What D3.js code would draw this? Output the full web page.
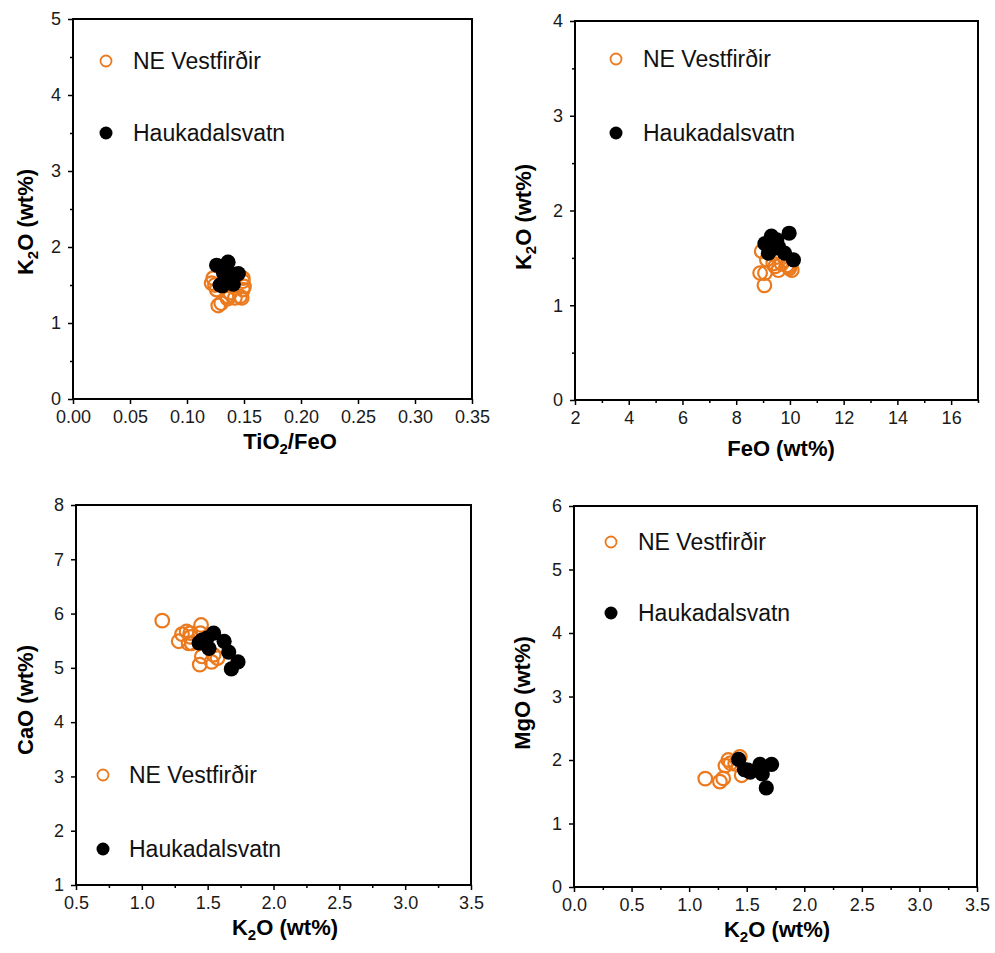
<!DOCTYPE html>
<html><head><meta charset="utf-8">
<script src="https://cdn.jsdelivr.net/npm/d3@7"></script>
<style>
body{margin:0;background:#fff;}
svg{display:block;font-family:"Liberation Sans",Arial,Helvetica,sans-serif;}
</style></head>
<body>
<svg id="chart" width="995" height="953"></svg>
<script>
const seriesNames = ["NE Vestfirðir", "Haukadalsvatn"];
const orange = "#EB7A1E";

// Panel 1: TiO2/FeO vs K2O
const p1_ne = [[0.1274,1.23],[0.130,1.26],[0.1357,1.32],[0.135,1.35],[0.142,1.33],[0.1465,1.35],[0.148,1.33],
  [0.138,1.40],[0.150,1.48],[0.149,1.44],[0.149,1.55],[0.149,1.59],[0.1245,1.50],[0.1216,1.525],[0.123,1.59],[0.126,1.44]];
const p1_ha = [[0.126,1.76],[0.136,1.80],[0.132,1.66],[0.1377,1.66],[0.145,1.65],[0.129,1.50],[0.131,1.49],
  [0.1406,1.51],[0.1348,1.57]];

// Panel 2: FeO vs K2O
const p2_ne = [[9.05,1.21],[8.89,1.34],[9.07,1.34],[9.98,1.39],[9.45,1.41],[8.95,1.57],[9.14,1.48],[9.69,1.44],
  [9.88,1.42],[9.38,1.44],[9.94,1.41],[10.07,1.37],[9.57,1.37]];
const p2_ha = [[9.31,1.73],[9.97,1.76],[9.07,1.65],[9.57,1.62],[10.13,1.48],[9.80,1.55],[9.20,1.55],[9.51,1.69],[9.40,1.60]];

// Panel 3: K2O vs CaO
const p3_ne = [[1.155,5.87],[1.28,5.49],[1.305,5.62],[1.368,5.64],[1.37,5.57],[1.45,5.79],[1.444,5.64],[1.355,5.45],
  [1.38,5.45],[1.34,5.67],[1.44,5.06],[1.456,5.21],[1.545,5.24],[1.575,5.18],[1.53,5.11]];
const p3_ha = [[1.435,5.46],[1.545,5.64],[1.495,5.55],[1.51,5.36],[1.625,5.49],[1.66,5.29],[1.73,5.11],[1.68,4.98],[1.457,5.51]];

// Panel 4: K2O vs MgO
const p4_ne = [[1.14,1.707],[1.267,1.66],[1.296,1.71],[1.34,2.0],[1.315,1.91],[1.44,2.05],[1.456,1.76],[1.40,1.94],[1.36,1.95]];
const p4_ha = [[1.43,2.01],[1.51,1.84],[1.48,1.85],[1.615,1.93],[1.716,1.93],[1.635,1.78],[1.67,1.56],[1.53,1.81]];

// tick values
const p1_xt = [0,0.05,0.10,0.15,0.20,0.25,0.30,0.35], p1_yt=[0,1,2,3,4,5], p1_ym=[0.5,1.5,2.5,3.5,4.5];
const p2_xt = [2,4,6,8,10,12,14,16], p2_xm=[3,5,7,9,11,13,15,17], p2_yt=[0,1,2,3,4], p2_ym=[0.5,1.5,2.5,3.5];
const p3_xt = [0.5,1.0,1.5,2.0,2.5,3.0,3.5], p3_xm=[0.75,1.25,1.75,2.25,2.75,3.25], p3_yt=[1,2,3,4,5,6,7,8];
const p4_xt = [0,0.5,1.0,1.5,2.0,2.5,3.0,3.5], p4_xm=[0.25,0.75,1.25,1.75,2.25,2.75,3.25], p4_yt=[0,1,2,3,4,5,6];

const svg = d3.select("#chart");

const panels = [
  {box:[73,19,472,399], xd:[0,0.35], yd:[0,5], xt:p1_xt, xm:[], yt:p1_yt, ym:p1_ym, xf:d3.format(".2f"), yf:d3.format("d"),
   ne:p1_ne, ha:p1_ha, xlab:[["TiO",""],["2","sub"],["/FeO",""]], ylab:[["K",""],["2","sub"],["O (wt%)",""]],
   xlabPos:[290,449], ylabPos:[25,222], leg:[[106,61],[106,133]], legTx:133},
  {box:[575,21,978,400], xd:[2,17], yd:[0,4], xt:p2_xt, xm:p2_xm, yt:p2_yt, ym:p2_ym, xf:d3.format("d"), yf:d3.format("d"),
   ne:p2_ne, ha:p2_ha, xlab:[["FeO (wt%)",""]], ylab:[["K",""],["2","sub"],["O (wt%)",""]],
   xlabPos:[781,456], ylabPos:[523,217], leg:[[616,59],[616,133]], legTx:643},
  {box:[76,505,471,885], xd:[0.5,3.5], yd:[1,8], xt:p3_xt, xm:p3_xm, yt:p3_yt, ym:[], xf:d3.format(".1f"), yf:d3.format("d"),
   ne:p3_ne, ha:p3_ha, xlab:[["K",""],["2","sub"],["O (wt%)",""]], ylab:[["CaO (wt%)",""]],
   xlabPos:[285,935], ylabPos:[25,700], leg:[[103,775],[103,849]], legTx:129},
  {box:[574,506,977,887], xd:[0,3.5], yd:[0,6], xt:p4_xt, xm:p4_xm, yt:p4_yt, ym:[], xf:d3.format(".1f"), yf:d3.format("d"),
   ne:p4_ne, ha:p4_ha, xlab:[["K",""],["2","sub"],["O (wt%)",""]], ylab:[["MgO (wt%)",""]],
   xlabPos:[777,937], ylabPos:[522,693], leg:[[611,542],[611,613]], legTx:638}
];

function richText(sel, parts){
  let shifted = false;
  parts.forEach(([t,k])=>{
    const ts = sel.append("tspan").text(t);
    if(k==="sub"){ ts.attr("dy","5").attr("font-size","15px"); shifted = true; }
    else if(shifted){ ts.attr("dy","-5"); shifted = false; }
  });
}

panels.forEach(p=>{
  const [l,t,r,b] = p.box;
  const x = d3.scaleLinear().domain(p.xd).range([l,r]);
  const y = d3.scaleLinear().domain(p.yd).range([b,t]);
  const g = svg.append("g");

  // data
  g.append("g").selectAll("circle").data(p.ne).join("circle")
    .attr("cx",d=>x(d[0])).attr("cy",d=>y(d[1])).attr("r",6.8)
    .attr("fill","none").attr("stroke",orange).attr("stroke-width",2.2);
  g.append("g").selectAll("circle").data(p.ha).join("circle")
    .attr("cx",d=>x(d[0])).attr("cy",d=>y(d[1])).attr("r",7.6)
    .attr("fill","#000");

  // axes
  const xa = g.append("g").attr("transform",`translate(0,${b})`)
    .call(d3.axisBottom(x).tickValues(p.xt).tickFormat(p.xf).tickSizeInner(5).tickSizeOuter(0).tickPadding(6));
  const xmin = g.append("g").attr("transform",`translate(0,${b})`)
    .call(d3.axisBottom(x).tickValues(p.xm).tickFormat("").tickSizeInner(3).tickSizeOuter(0));
  const ya = g.append("g").attr("transform",`translate(${l},0)`)
    .call(d3.axisLeft(y).tickValues(p.yt).tickFormat(p.yf).tickSizeInner(5).tickSizeOuter(0).tickPadding(7));
  const ymin = g.append("g").attr("transform",`translate(${l},0)`)
    .call(d3.axisLeft(y).tickValues(p.ym).tickFormat("").tickSizeInner(3).tickSizeOuter(0));
  [xa,xmin,ya,ymin].forEach(a=>{
    a.attr("font-size",null).attr("font-family",null);
    a.select(".domain").remove();
    a.selectAll("line").attr("stroke","#000").attr("stroke-width",1.5);
    a.selectAll("text").style("font-size","18px").attr("fill","#1a1a1a")
      .style("font-family","'Liberation Sans',Arial,sans-serif");
  });

  // frame
  g.append("rect").attr("x",l).attr("y",t).attr("width",r-l).attr("height",b-t)
    .attr("fill","none").attr("stroke","#000").attr("stroke-width",2);

  // axis titles
  const xt = g.append("text").attr("x",p.xlabPos[0]).attr("y",p.xlabPos[1])
    .attr("text-anchor","middle").attr("font-size","22px").attr("font-weight","bold");
  richText(xt, p.xlab);
  const yt = g.append("text").attr("transform",`translate(${p.ylabPos[0]+8},${p.ylabPos[1]}) rotate(-90)`)
    .attr("text-anchor","middle").attr("font-size","22px").attr("font-weight","bold");
  richText(yt, p.ylab);

  // legend
  const lg = g.append("g");
  lg.append("circle").attr("cx",p.leg[0][0]).attr("cy",p.leg[0][1]).attr("r",5.5)
    .attr("fill","none").attr("stroke",orange).attr("stroke-width",1.8);
  lg.append("circle").attr("cx",p.leg[1][0]).attr("cy",p.leg[1][1]).attr("r",6.5).attr("fill","#000");
  seriesNames.forEach((n,i)=>{
    lg.append("text").attr("x",p.legTx).attr("y",p.leg[i][1]).attr("dy","0.35em")
      .attr("font-size","23px").attr("fill","#111").text(n);
  });
});
</script>
</body></html>
